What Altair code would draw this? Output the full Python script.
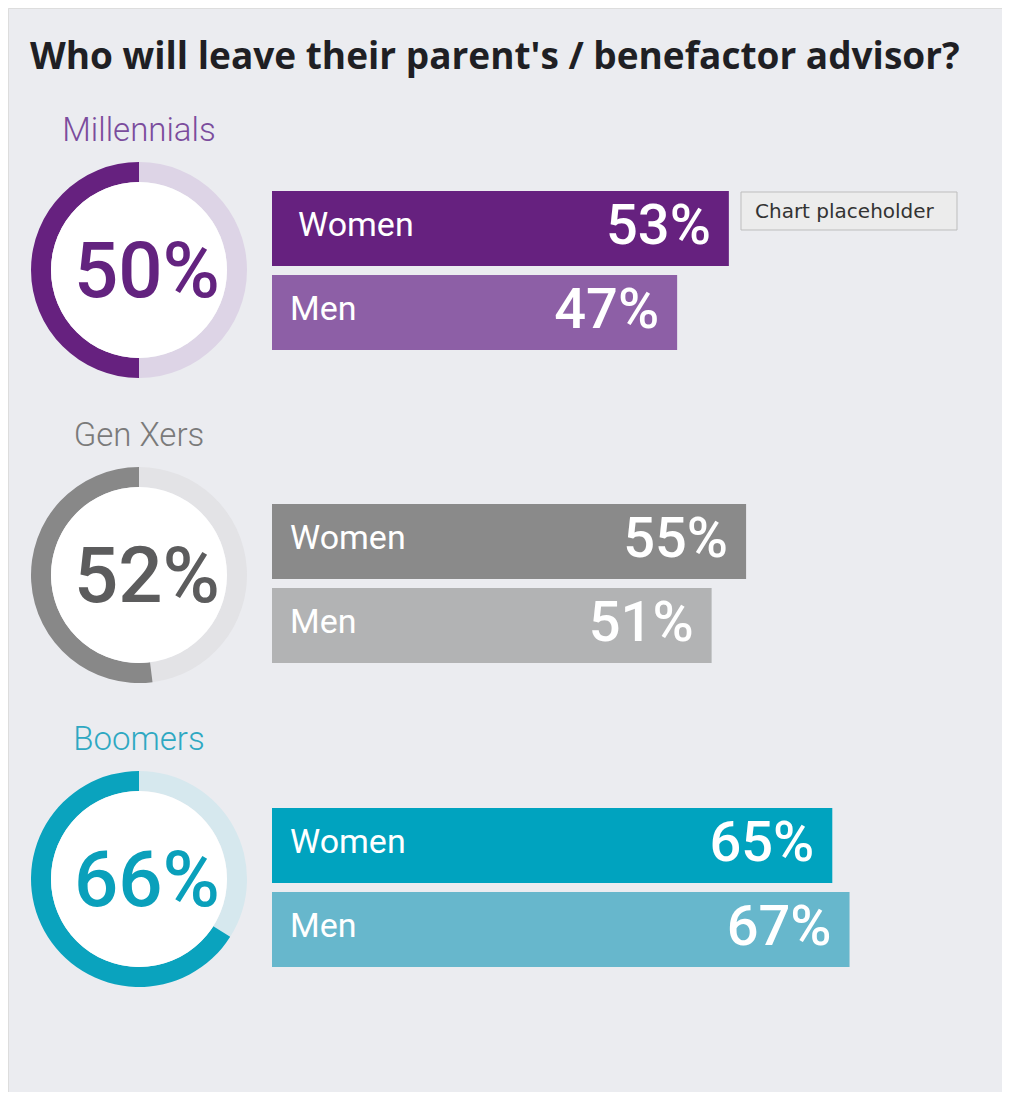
import math
import altair as alt
import pandas as pd

# ---------------- data ----------------
TITLE = "Who will leave their parent's / benefactor advisor?"
GENERATIONS = ["Millennials", "Gen Xers", "Boomers"]
OVERALL = [50, 52, 66]
GENDERS = ["Women", "Men"]
WOMEN = [53, 55, 65]
MEN = [47, 51, 67]
TOOLTIP_TEXT = "Chart placeholder"

# ---------------- styles ----------------
PALETTE = {
    "Millennials": dict(women="#66217f", men="#8d5fa6", ring="#66217f", track="#ddd4e6",
                        center="#63237f", label="#7b4c9d"),
    "Gen Xers": dict(women="#8a8a8a", men="#b2b3b4", ring="#888888", track="#e3e3e6",
                     center="#5c5c5d", label="#7a7a7a"),
    "Boomers": dict(women="#00a3bf", men="#67b7cc", ring="#0aa3be", track="#d6e8ee",
                    center="#0aa0bb", label="#2ea8c2"),
}
BG = "#ebecf0"

# ---------------- layout ----------------
W, H = 994, 1084
DONUT_CX = 131
DONUT_CY = [262, 567, 871]
BAR_TOP = [183, 496, 800]
BAR_H, BAR_GAP = 75, 9
BAR_X0, PX_PER_PCT = 264, 8.62
R_OUT, R_IN = 108, 88

px = alt.Scale(domain=[0, W], range=[0, W])
py = alt.Scale(domain=[0, H], range=[0, H])
bar_scale = alt.Scale(domain=[0, 100], range=[BAR_X0, BAR_X0 + 100 * PX_PER_PCT])
theta_scale = alt.Scale(domain=[0, 100], range=[0, 2 * math.pi])

# ---------------- tables ----------------
bar_rows = []
for i, g in enumerate(GENERATIONS):
    for j, (gender, vals) in enumerate(zip(GENDERS, [WOMEN, MEN])):
        top = BAR_TOP[i] + j * (BAR_H + BAR_GAP)
        bar_rows.append(dict(
            gen=g, gender=gender, value=vals[i], top=top, bottom=top + BAR_H,
            label_x=BAR_X0 + (26 if (i == 0 and j == 0) else 18),
            label_y=top + 45, pct_y=top + 53, pct=f"{vals[i]}%",
            color=PALETTE[g]["women" if j == 0 else "men"],
        ))
bars_df = pd.DataFrame(bar_rows)

arc_rows, disc_rows, center_rows = [], [], []
for i, g in enumerate(GENERATIONS):
    p = OVERALL[i]
    cy = DONUT_CY[i]
    arc_rows.append(dict(cx=DONUT_CX, cy=cy, t0=0, t1=100 - p, color=PALETTE[g]["track"]))
    arc_rows.append(dict(cx=DONUT_CX, cy=cy, t0=100 - p, t1=100, color=PALETTE[g]["ring"]))
    disc_rows.append(dict(cx=DONUT_CX, cy=cy, t0=0, t1=100, color="#ffffff"))
    center_rows.append(dict(cx=DONUT_CX, tx=DONUT_CX + 8, cy=cy + 27, txt=f"{p}%",
                            color=PALETTE[g]["center"], gy=cy - 129, gen=g,
                            gcolor=PALETTE[g]["label"]))
arcs_df = pd.DataFrame(arc_rows)
disc_df = pd.DataFrame(disc_rows)
center_df = pd.DataFrame(center_rows)

X = lambda f: alt.X(f, scale=px, axis=None)
Y = lambda f: alt.Y(f, scale=py, axis=None)

track_ring = alt.Chart(arcs_df).mark_arc(radius=R_OUT, radius2=R_IN).encode(
    x=X("cx:Q"), y=Y("cy:Q"),
    theta=alt.Theta("t0:Q", scale=theta_scale, stack=None), theta2="t1:Q",
    color=alt.Color("color:N", scale=None),
)
disc = alt.Chart(disc_df).mark_arc(radius=R_IN, radius2=0).encode(
    x=X("cx:Q"), y=Y("cy:Q"),
    theta=alt.Theta("t0:Q", scale=theta_scale, stack=None), theta2="t1:Q",
    color=alt.Color("color:N", scale=None),
)
center_txt = alt.Chart(center_df).mark_text(
    font="Roboto", fontSize=78, fontWeight=500, align="center", baseline="alphabetic"
).encode(x=X("tx:Q"), y=Y("cy:Q"), text="txt:N", color=alt.Color("color:N", scale=None))
gen_txt = alt.Chart(center_df).mark_text(
    font="Roboto", fontSize=33, fontWeight=300, align="center", baseline="alphabetic"
).encode(x=X("cx:Q"), y=Y("gy:Q"), text="gen:N", color=alt.Color("gcolor:N", scale=None))

bars = alt.Chart(bars_df).mark_rect().encode(
    x=alt.X("value:Q", scale=bar_scale, axis=None), x2=alt.datum(0),
    y=Y("top:Q"), y2="bottom:Q",
    color=alt.Color("color:N", scale=None),
)
bar_labels = alt.Chart(bars_df).mark_text(
    font="Roboto", fontSize=34, align="left", baseline="alphabetic", color="white"
).encode(x=X("label_x:Q"), y=Y("label_y:Q"), text="gender:N")
bar_pcts = alt.Chart(bars_df).mark_text(
    font="Roboto", fontSize=56, fontWeight=500, align="right", baseline="alphabetic",
    color="white", dx=-18
).encode(x=alt.X("value:Q", scale=bar_scale, axis=None), y=Y("pct_y:Q"), text="pct:N")

title_df = pd.DataFrame([dict(x=22, y=61, t=TITLE)])
title = alt.Chart(title_df).mark_text(
    font="Open Sans", fontSize=37, fontWeight=700, align="left", baseline="alphabetic",
    color="#1f1f24"
).encode(x=X("x:Q"), y=Y("y:Q"), text="t:N")

tip_df = pd.DataFrame([dict(x=733, x2=949, y=184, y2=222, tx=747, ty=210, t=TOOLTIP_TEXT)])
tip_shadow = alt.Chart(tip_df).mark_rect(
    fill="#000000", opacity=0.08
).encode(x=X("x:Q"), x2="x2:Q", y=Y("y:Q"), y2="y2:Q", xOffset=alt.value(1), yOffset=alt.value(2))
tip_box = alt.Chart(tip_df).mark_rect(
    fill="#ececec", stroke="#bdbdbd", strokeWidth=1
).encode(x=X("x:Q"), x2="x2:Q", y=Y("y:Q"), y2="y2:Q")
tip_txt = alt.Chart(tip_df).mark_text(
    font="DejaVu Sans", fontSize=20, align="left", baseline="alphabetic", color="#333333"
).encode(x=X("tx:Q"), y=Y("ty:Q"), text="t:N")

chart = alt.layer(
    title, track_ring, disc, center_txt, gen_txt, bars, bar_labels, bar_pcts,
    tip_box, tip_txt
).resolve_scale(x="independent", y="independent").properties(
    width=W, height=H, autosize="none", padding=0
).configure_view(stroke=None).configure(background=BG)

chart.save("out.html", embed_options={"renderer": "svg", "actions": False})
